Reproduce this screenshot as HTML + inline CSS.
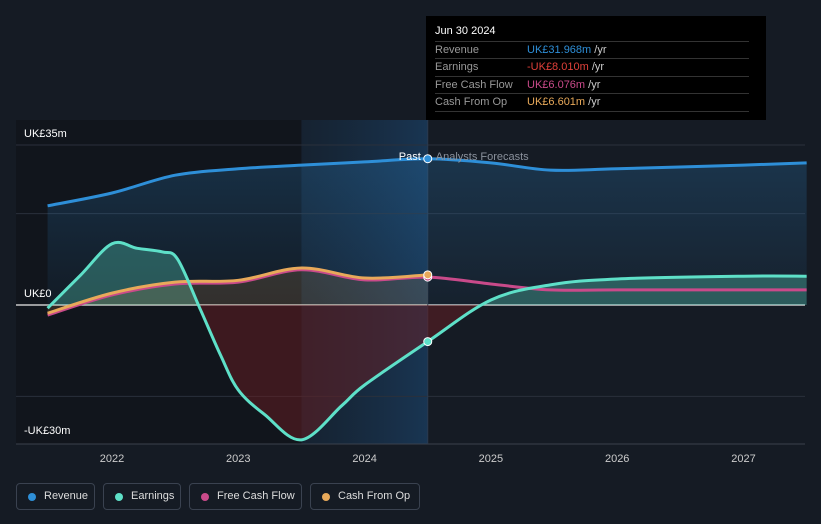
<!DOCTYPE html>
<html><head><meta charset="utf-8"><style>
body{margin:0;background:#151b24;width:821px;height:524px;overflow:hidden;font-family:"Liberation Sans",sans-serif}
#wrap{position:relative;width:821px;height:524px}
svg{position:absolute;left:0;top:0}
.tip{position:absolute;left:426px;top:16px;width:340px;height:104px;background:#000;color:#ccc;font-size:11px}
.tip .h{position:absolute;left:9px;top:9px;color:#fff;font-size:11px}
.tip .r{position:absolute;left:9px;width:314px;border-top:1px solid #333;height:17px;line-height:17px}
.tip .r span.l{color:#999;position:absolute;left:0}
.tip .r span.v{position:absolute;left:92px}
.leg{position:absolute;top:483px;height:27px;border:1px solid #3a4250;border-radius:4px;box-sizing:border-box;color:#ddd;font-size:11px;line-height:25px}
.leg i{position:absolute;left:11px;top:9px;width:8px;height:8px;border-radius:50%}
.leg span{position:absolute;left:27px}
</style></head><body><div id="wrap">
<svg id="chart" width="821" height="524"></svg>
<div class="tip">
<div class="h">Jun 30 2024</div>
<div class="r" style="top:25px"><span class="l">Revenue</span><span class="v"><b style="font-weight:normal;color:#2e8fd8">UK£31.968m</b> /yr</span></div>
<div class="r" style="top:42px"><span class="l">Earnings</span><span class="v"><b style="font-weight:normal;color:#e0403a">-UK£8.010m</b> /yr</span></div>
<div class="r" style="top:60px"><span class="l">Free Cash Flow</span><span class="v"><b style="font-weight:normal;color:#c94a8a">UK£6.076m</b> /yr</span></div>
<div class="r" style="top:77px;border-bottom:1px solid #333"><span class="l">Cash From Op</span><span class="v"><b style="font-weight:normal;color:#e8a95a">UK£6.601m</b> /yr</span></div>
</div>
<div class="leg" style="left:16px;width:79px"><i style="background:#2e8fd8"></i><span>Revenue</span></div>
<div class="leg" style="left:103px;width:78px"><i style="background:#5ee0c8"></i><span>Earnings</span></div>
<div class="leg" style="left:189px;width:113px"><i style="background:#c94a8a"></i><span>Free Cash Flow</span></div>
<div class="leg" style="left:310px;width:110px"><i style="background:#e8a95a"></i><span>Cash From Op</span></div>
</div>
<script>
const revT=[2021.49,2022,2022.5,2023,2023.5,2024,2024.5,2025,2025.47,2026,2027,2027.5];
const revV=[21.7,24.5,28.4,29.8,30.6,31.3,32.0,31.1,29.5,29.8,30.6,31.1];
const earnT=[2021.49,2021.75,2022,2022.2,2022.4,2022.52,2022.7,2022.86,2023,2023.21,2023.5,2023.82,2024,2024.5,2025,2025.47,2026,2027,2027.5];
const earnV=[-0.7,6.5,13.4,12.4,11.6,10.0,-1,-11,-18.6,-24,-29.5,-22,-17.5,-8.0,1.1,4.4,5.7,6.3,6.3];
const fcfT=[2021.49,2022,2022.5,2023,2023.5,2024,2024.5,2025,2025.47,2026,2027.5];
const fcfV=[-2.2,2.2,4.6,5.0,7.7,5.5,6.1,4.6,3.3,3.3,3.3];
const cfoT=[2021.49,2022,2022.5,2023,2023.5,2024,2024.5];
const cfoV=[-1.8,2.6,5.0,5.4,8.1,5.9,6.6];
const yTicks=[35,0,-30];
const yTickLabels=["UK£35m","UK£0","-UK£30m"];
const gridVals=[35,20,0,-20];
const xTicks=[2022,2023,2024,2025,2026,2027];
const X=t=>112+(t-2022)*126.3;
const Y=v=>305-v*4.571;
const svg=document.getElementById('chart');
const NS='http://www.w3.org/2000/svg';
function mk(tag,attrs){const e=document.createElementNS(NS,tag);for(const k in attrs)e.setAttribute(k,attrs[k]);svg.appendChild(e);return e;}
function path(T,V){const p=T.map((t,i)=>[X(t),Y(V[i])]);let d='M'+p[0][0]+','+p[0][1];
for(let i=0;i<p.length-1;i++){const p0=p[i-1]||p[i],p1=p[i],p2=p[i+1],p3=p[i+2]||p2;
d+=' C'+(p1[0]+(p2[0]-p0[0])/6)+','+(p1[1]+(p2[1]-p0[1])/6)+' '+(p2[0]-(p3[0]-p1[0])/6)+','+(p2[1]-(p3[1]-p1[1])/6)+' '+p2[0]+','+p2[1];}return d;}
const defs=mk('defs',{});
defs.innerHTML='<linearGradient id="hl" x1="0" x2="1"><stop offset="0" stop-color="#173049" stop-opacity="0.35"/><stop offset="1" stop-color="#1a3e62" stop-opacity="0.75"/></linearGradient>'+
'<linearGradient id="revg" x1="0" y1="0" x2="0" y2="1"><stop offset="0" stop-color="#2e8fd8" stop-opacity="0.22"/><stop offset="1" stop-color="#2e8fd8" stop-opacity="0.05"/></linearGradient>'+
'<clipPath id="past"><rect x="0" y="0" width="'+X(2025)+'" height="524"/></clipPath>'+
'<clipPath id="abv"><rect x="0" y="0" width="821" height="305"/></clipPath><clipPath id="blw"><rect x="0" y="305" width="821" height="200"/></clipPath>';
let e;
e=mk('rect',{x:16,y:120,width:X(2023.5)-16,height:324,fill:'#11151c'});

e=mk('rect',{x:X(2023.5),y:120,width:X(2024.5)-X(2023.5),height:324,fill:'url(#hl)'});

gridVals.forEach(v=>{e=mk('line',{x1:16,x2:805,y1:Y(v),y2:Y(v),stroke:v===0?'#c8c8c8':'#2a303b','stroke-width':v===0?1.5:1});
});
e=mk('line',{x1:16,x2:805,y1:444,y2:444,stroke:'#3a414d'});
e=mk('line',{x1:X(2024.5),x2:X(2024.5),y1:120,y2:444,stroke:'#2a3a4e'});
e=mk('path',{d:path(revT,revV)+' L'+X(revT[revT.length-1])+',305 L'+X(revT[0])+',305 Z',fill:'url(#revg)'});

e=mk('path',{d:path(earnT,earnV)+' L'+X(2027.5)+',305 L'+X(2021.49)+',305 Z',fill:'#5ee0c8','fill-opacity':0.3,'clip-path':'url(#abv)'});

const g=mk('g',{'clip-path':'url(#past)'});
const neg=document.createElementNS(NS,'path');neg.setAttribute('d',path(earnT,earnV)+' L'+X(2027.5)+',305 L'+X(2021.49)+',305 Z');
neg.setAttribute('fill','#6a1e22');neg.setAttribute('fill-opacity','0.5');neg.setAttribute('clip-path','url(#blw)');g.appendChild(neg);


e=mk('path',{d:path(cfoT,cfoV)+' L'+X(2024.5)+',305 L'+X(2021.49)+',305 Z',fill:'#e8a95a','fill-opacity':0.15});

e=mk('path',{d:path(revT,revV),fill:'none',stroke:'#2e8fd8','stroke-width':3});
e=mk('path',{d:path(fcfT,fcfV),fill:'none',stroke:'#c94a8a','stroke-width':3});
e=mk('path',{d:path(cfoT,cfoV),fill:'none',stroke:'#e8a95a','stroke-width':3});
e=mk('path',{d:path(earnT,earnV),fill:'none',stroke:'#5ee0c8','stroke-width':3});
[[revV,revT,'#2e8fd8'],[fcfV,fcfT,'#c94a8a'],[cfoV,cfoT,'#e8a95a'],[earnV,earnT,'#5ee0c8']].forEach(([V,T,c])=>{const i=T.indexOf(2024.5);
e=mk('circle',{cx:X(2024.5),cy:Y(V[i]),r:4,fill:c,stroke:'#fff','stroke-width':1});});
yTicks.forEach((v,i)=>{e=mk('text',{x:24,y:Y(v)-8,fill:'#fff','font-size':11});e.textContent=yTickLabels[i];});
xTicks.forEach(t=>{e=mk('text',{x:X(t),y:462,fill:'#ccc','font-size':11,'text-anchor':'middle'});e.textContent=t;});
e=mk('text',{x:X(2024.5)-7,y:160,fill:'#fff','font-size':11,'text-anchor':'end'});e.textContent='Past';
e=mk('text',{x:X(2024.5)+8,y:160,fill:'#8a919c','font-size':11});e.textContent='Analysts Forecasts';
</script></body></html>
